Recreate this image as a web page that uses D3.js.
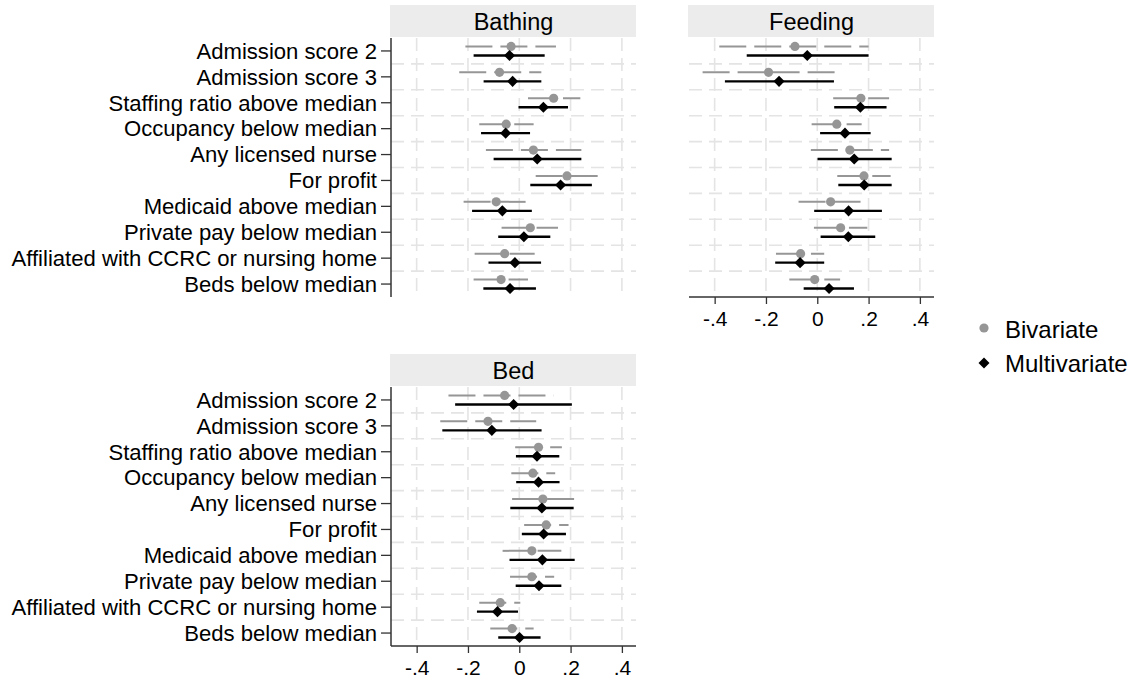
<!DOCTYPE html>
<html>
<head>
<meta charset="utf-8">
<script src="https://cdn.jsdelivr.net/npm/d3@7"></script>
<style>
  body { margin: 0; background: #fff; }
  svg text { font-family: "Liberation Sans", Arial, sans-serif; fill: #000; }
</style>
</head>
<body>
<svg width="1145" height="683"></svg>
<script>
// row labels, top to bottom
const labels = ['Admission score 2', 'Admission score 3', 'Staffing ratio above median',
  'Occupancy below median', 'Any licensed nurse', 'For profit', 'Medicaid above median',
  'Private pay below median', 'Affiliated with CCRC or nursing home', 'Beds below median'];
const ticks = [-0.4, -0.2, 0, 0.2, 0.4];
const tickLabels = ['-.4', '-.2', '0', '.2', '.4'];

// [estimate, lower, upper]
const bathingBiv = [[-0.032, -0.21, 0.143], [-0.077, -0.234, 0.086], [0.134, 0.034, 0.238],
  [-0.051, -0.156, 0.056], [0.055, -0.13, 0.242], [0.186, 0.064, 0.312], [-0.09, -0.217, 0.039],
  [0.043, -0.069, 0.151], [-0.057, -0.174, 0.06], [-0.071, -0.178, 0.034]];
const bathingMulti = [[-0.038, -0.178, 0.099], [-0.026, -0.139, 0.086], [0.094, -0.003, 0.19],
  [-0.053, -0.149, 0.042], [0.07, -0.1, 0.242], [0.161, 0.043, 0.283], [-0.066, -0.184, 0.049],
  [0.018, -0.082, 0.121], [-0.017, -0.12, 0.085], [-0.036, -0.14, 0.065]];

const feedingBiv = [[-0.087, -0.382, 0.2], [-0.19, -0.447, 0.069], [0.17, 0.062, 0.28],
  [0.076, -0.022, 0.173], [0.127, -0.025, 0.28], [0.182, 0.078, 0.286], [0.052, -0.073, 0.176],
  [0.091, -0.013, 0.195], [-0.065, -0.161, 0.027], [-0.01, -0.109, 0.089]];
const feedingMulti = [[-0.039, -0.275, 0.2], [-0.149, -0.36, 0.065], [0.168, 0.066, 0.27],
  [0.108, 0.011, 0.208], [0.144, 0.001, 0.29], [0.183, 0.082, 0.29], [0.122, -0.012, 0.252],
  [0.121, 0.013, 0.226], [-0.067, -0.164, 0.027], [0.046, -0.053, 0.143]];

const bedBiv = [[-0.057, -0.276, 0.134], [-0.122, -0.308, 0.066], [0.075, -0.016, 0.166],
  [0.053, -0.031, 0.14], [0.092, -0.028, 0.214], [0.105, 0.019, 0.192], [0.049, -0.065, 0.164],
  [0.049, -0.036, 0.136], [-0.074, -0.156, 0.004], [-0.028, -0.113, 0.056]];
const bedMulti = [[-0.022, -0.25, 0.205], [-0.107, -0.3, 0.087], [0.069, -0.013, 0.156],
  [0.075, -0.012, 0.157], [0.088, -0.035, 0.212], [0.095, 0.01, 0.182], [0.09, -0.038, 0.216],
  [0.077, -0.014, 0.164], [-0.085, -0.165, -0.005], [0.001, -0.082, 0.083]];

let svg = d3.select('svg');
const pw = 245, ph = 259, headH = 32;
const grid = '#e4e4e4', grey = '#969696';
const diamond = d3.symbol().type(d3.symbolDiamond2).size(78);

let x = d3.scaleLinear().domain([-0.5, 0.455]).range([0, pw]);
let y = d3.scaleBand().domain(labels).range([0, ph]);

function panel(left, top, title, biv, multi, showY, showX) {
  let g = svg.append('g').attr('transform', 'translate(' + left + ',' + top + ')');

  // header strip
  g.append('rect').attr('x', -1).attr('y', -headH - 1).attr('width', pw + 1).attr('height', headH)
    .attr('fill', '#ececec');
  g.append('text').attr('x', pw / 2).attr('y', -8).attr('text-anchor', 'middle')
    .style('font-size', '23.5px').text(title);

  // grid
  g.selectAll('.vg').data(ticks).enter().append('line')
    .attr('x1', d => x(d)).attr('x2', d => x(d)).attr('y1', 0).attr('y2', ph)
    .attr('stroke', grid).attr('stroke-width', 1.6).attr('stroke-dasharray', '13,7');
  g.selectAll('.hg').data(labels.slice(1)).enter().append('line')
    .attr('x1', 0).attr('x2', pw).attr('y1', d => y(d)).attr('y2', d => y(d))
    .attr('stroke', grid).attr('stroke-width', 1.6).attr('stroke-dasharray', '13,7');

  let yc = (d, i) => y(labels[i]) + y.bandwidth() / 2;

  // bivariate
  let off = -4.5;
  g.selectAll('.bl').data(biv).enter().append('line')
    .attr('x1', d => x(d[1])).attr('x2', d => x(d[2]))
    .attr('y1', (d, i) => yc(d, i) + off).attr('y2', (d, i) => yc(d, i) + off)
    .attr('stroke', grey).attr('stroke-width', 2).attr('stroke-dasharray', '27,8');
  g.selectAll('.bc').data(biv).enter().append('circle')
    .attr('cx', d => x(d[0])).attr('cy', (d, i) => yc(d, i) + off)
    .attr('r', 4.6).attr('fill', grey);

  // multivariate
  let off2 = 4.5;
  g.selectAll('.ml').data(multi).enter().append('line')
    .attr('x1', d => x(d[1])).attr('x2', d => x(d[2]))
    .attr('y1', (d, i) => yc(d, i) + off2).attr('y2', (d, i) => yc(d, i) + off2)
    .attr('stroke', '#000').attr('stroke-width', 2.4);
  g.selectAll('.md').data(multi).enter().append('path')
    .attr('d', diamond)
    .attr('transform', (d, i) => 'translate(' + x(d[0]) + ',' + (yc(d, i) + off2) + ')')
    .attr('fill', '#000');

  if (showY) {
    let ya = g.append('g').call(d3.axisLeft(y).tickSize(10).tickPadding(4));
    ya.select('.domain').attr('stroke', '#333').attr('stroke-width', 1.5).attr('d', 'M0,0V' + ph);
    ya.selectAll('.tick line').attr('stroke', '#333').attr('stroke-width', 1.3);
    ya.selectAll('text').style('font-size', '22.1px').attr('dy', '0.35em');
  }
  if (showX) {
    let xa = g.append('g').attr('transform', 'translate(0,' + ph + ')')
      .call(d3.axisBottom(x).tickValues(ticks).tickFormat((d, i) => tickLabels[i]).tickSize(7).tickPadding(7));
    xa.select('.domain').attr('stroke', '#333').attr('stroke-width', 1.5).attr('d', 'M0,0H' + pw);
    xa.selectAll('.tick line').attr('stroke', '#333').attr('stroke-width', 1.3);
    xa.selectAll('text').style('font-size', '21px');
  }
}

panel(391, 38, 'Bathing', bathingBiv, bathingMulti, true, false);
panel(689, 38, 'Feeding', feedingBiv, feedingMulti, false, true);
panel(391, 387, 'Bed', bedBiv, bedMulti, true, true);

// legend
let leg = svg.append('g').attr('transform', 'translate(984,0)');
leg.append('circle').attr('cx', 0).attr('cy', 328).attr('r', 4.6).attr('fill', grey);
leg.append('text').attr('x', 21).attr('y', 338).style('font-size', '24px').text('Bivariate');
leg.append('path').attr('d', diamond)
  .attr('transform', 'translate(0,363)').attr('fill', '#000');
leg.append('text').attr('x', 21).attr('y', 372).style('font-size', '24px').text('Multivariate');
</script>
</body>
</html>
